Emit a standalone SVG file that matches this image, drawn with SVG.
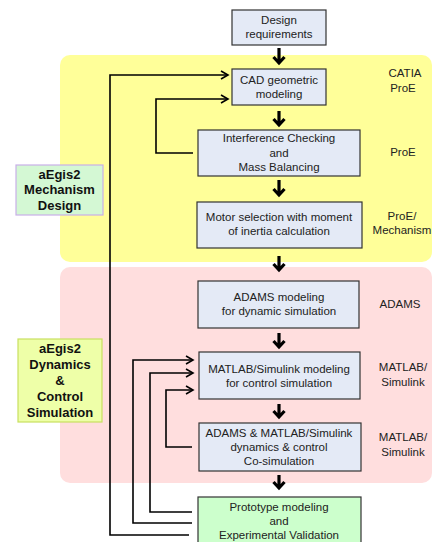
<svg xmlns="http://www.w3.org/2000/svg" width="433" height="542" viewBox="0 0 433 542">
<style>
.box{fill:#e4eaf6;stroke:#333;stroke-width:1.2}
.t{font-family:"Liberation Sans",Arial,sans-serif;font-size:11.5px;fill:#222;text-anchor:middle}
.b{font-family:"Liberation Sans",Arial,sans-serif;font-size:13px;font-weight:bold;fill:#111;text-anchor:middle}
.thick{fill:none;stroke:#000;stroke-width:3.2;stroke-linejoin:miter}
.fb{fill:none;stroke:#000;stroke-width:1.6}
</style>
<defs>
<marker id="ah" markerWidth="10" markerHeight="10" refX="8" refY="5" orient="auto" markerUnits="userSpaceOnUse">
<polyline points="1,1 8,5 1,9" fill="none" stroke="#000" stroke-width="1.6"/>
</marker>
</defs>
<rect x="60" y="55" width="372" height="207" rx="10" fill="#ffff99"/>
<rect x="60" y="267" width="372" height="216" rx="10" fill="#ffdede"/>
<g id="connectors">
<path class="thick" d="M279,48V63M273.5,57L279,63L284.5,57"/>
<path class="thick" d="M279,111V125M273.5,119L279,125L284.5,119"/>
<path class="thick" d="M279,180V195M273.5,189L279,195L284.5,189"/>
<path class="thick" d="M279,256V270M273.5,264L279,270L284.5,264"/>
<path class="thick" d="M279,333V347M273.5,341L279,347L284.5,341"/>
<path class="thick" d="M279,404V417M273.5,411L279,417L284.5,411"/>
<path class="thick" d="M279,475V488M273.5,482L279,488L284.5,482"/>
<path class="fb" d="M193,153H156V99H228" marker-end="url(#ah)"/>
<path class="fb" d="M189,535H110V75H228" marker-end="url(#ah)"/>
<path class="fb" d="M192,523H133V360H193" marker-end="url(#ah)"/>
<path class="fb" d="M192,512H150V373H193" marker-end="url(#ah)"/>
<path class="fb" d="M192,447H166V390H193" marker-end="url(#ah)"/>
</g>
<g id="design">
<rect class="box" x="232" y="10" width="94" height="35"/>
<text class="t" x="279" y="24">Design</text>
<text class="t" x="279" y="38">requirements</text>
</g>
<g id="cad">
<rect class="box" x="232" y="69" width="94" height="36"/>
<text class="t" x="279" y="84">CAD geometric</text>
<text class="t" x="279" y="98">modeling</text>
</g>
<g id="interference">
<rect class="box" x="198" y="130" width="162" height="46"/>
<text class="t" x="279" y="142">Interference Checking</text>
<text class="t" x="279" y="157">and</text>
<text class="t" x="279" y="171">Mass Balancing</text>
</g>
<g id="motor">
<rect class="box" x="197" y="202" width="165" height="46"/>
<text class="t" x="279" y="221">Motor selection with moment</text>
<text class="t" x="279" y="235">of inertia calculation</text>
</g>
<g id="adams">
<rect class="box" x="198" y="281" width="161" height="47"/>
<text class="t" x="279" y="301">ADAMS modeling</text>
<text class="t" x="279" y="315">for dynamic simulation</text>
</g>
<g id="matlab">
<rect class="box" x="199" y="352" width="161" height="47"/>
<text class="t" x="279" y="373">MATLAB/Simulink modeling</text>
<text class="t" x="279" y="387">for control simulation</text>
</g>
<g id="cosim">
<rect class="box" x="199" y="423" width="162" height="48"/>
<text class="t" x="279" y="437">ADAMS &amp; MATLAB/Simulink</text>
<text class="t" x="279" y="451">dynamics &amp; control</text>
<text class="t" x="279" y="465">Co-simulation</text>
</g>
<g id="prototype">
<rect x="198" y="497" width="163" height="50" fill="#ccffcc" stroke="#333" stroke-width="1.2"/>
<text class="t" x="279" y="511">Prototype modeling</text>
<text class="t" x="279" y="525">and</text>
<text class="t" x="279" y="539">Experimental Validation</text>
</g>
<g id="mech-design">
<rect x="16" y="165" width="87" height="50" fill="#d4f8d4" stroke="#c8b0e8" stroke-width="1.2"/>
<text class="b" x="59.5" y="179">aEgis2</text>
<text class="b" x="59.5" y="194">Mechanism</text>
<text class="b" x="59.5" y="210">Design</text>
</g>
<g id="dyn-sim">
<rect x="18" y="339" width="84" height="83" fill="#eeffa8" stroke="#c8e060" stroke-width="1.2"/>
<text class="b" x="60" y="353">aEgis2</text>
<text class="b" x="60" y="369">Dynamics</text>
<text class="b" x="60" y="385">&amp;</text>
<text class="b" x="60" y="401">Control</text>
<text class="b" x="60" y="417">Simulation</text>
</g>
<g id="labels">
<text class="t" x="405" y="77">CATIA</text>
<text class="t" x="403" y="92">ProE</text>
<text class="t" x="403" y="156">ProE</text>
<text class="t" x="402" y="220">ProE/</text>
<text class="t" x="402" y="234">Mechanism</text>
<text class="t" x="400" y="308">ADAMS</text>
<text class="t" x="403" y="371">MATLAB/</text>
<text class="t" x="403" y="386">Simulink</text>
<text class="t" x="403" y="441">MATLAB/</text>
<text class="t" x="403" y="456">Simulink</text>
</g>
</svg>
